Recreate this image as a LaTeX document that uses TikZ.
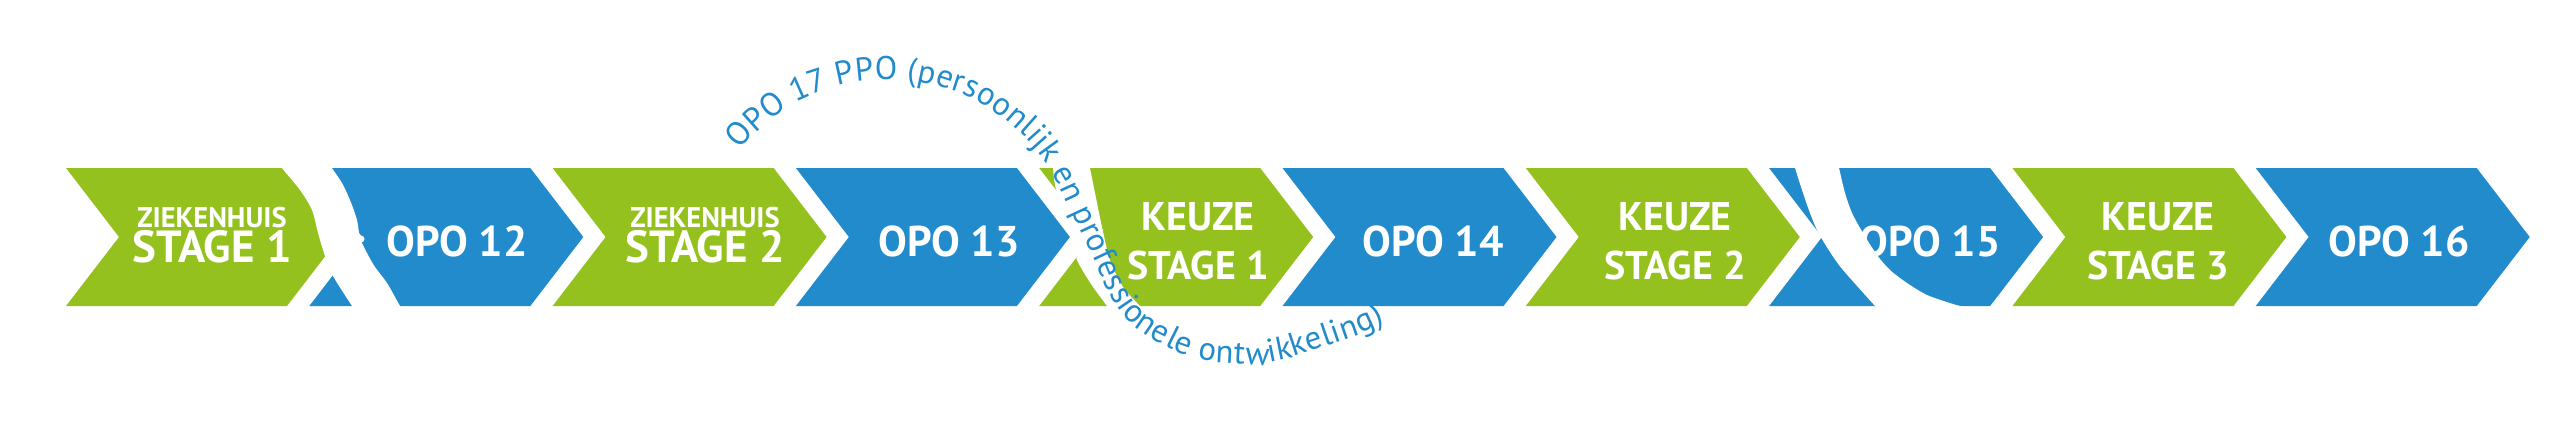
\documentclass[tikz,border=0pt]{standalone}
\usepackage{fontspec}
\setmainfont{PT Sans}
\usetikzlibrary{decorations.text}
\definecolor{kgreen}{HTML}{95C11F}
\definecolor{kblue}{HTML}{228BCB}
\tikzset{
  chevlabel/.style={anchor=base, inner sep=0pt, text=white},
  opolabel/.style={chevlabel, font=\bfseries\fontsize{10.75}{10.75}\selectfont},
  smalllabel/.style={chevlabel, font=\bfseries\fontsize{7.125}{7.125}\selectfont},
  biglabel/.style={chevlabel, font=\bfseries\fontsize{11.25}{11.25}\selectfont},
  keuzelabel/.style={chevlabel, font=\bfseries\fontsize{10}{10}\selectfont},
  band/.style={fill=white},
}
\newcommand\kchev[2]{\fill[#2] (#1,168) -- ++(221,0) -- ++(53,69) -- ++(-53,69) -- ++(-221,0) -- ++(53,-69) -- cycle;}
\begin{document}
\begin{tikzpicture}[x=0.25pt,y=-0.25pt]
\useasboundingbox (0,0) rectangle (2560,430);
% chevrons
\kchev{66}{kgreen}
\kchev{309.3}{kblue}
\kchev{552.6}{kgreen}
\kchev{795.9}{kblue}
\kchev{1039.2}{kgreen}
\kchev{1282.5}{kblue}
\kchev{1525.8}{kgreen}
\kchev{1769.1}{kblue}
\kchev{2012.4}{kgreen}
\kchev{2255.7}{kblue}
% labels
\node[smalllabel] (z1a) at (212,227.5) {ZIEKENHUIS};
\node[biglabel]   (z1b) at (212,262.5) {STAGE 1};
\node[opolabel]   (o12) at (457,256.5) {OPO 12};
\node[smalllabel] (z2a) at (705,227.5) {ZIEKENHUIS};
\node[biglabel]   (z2b) at (705,262.5) {STAGE 2};
\node[opolabel]   (o13) at (949,256.5) {OPO 13};
\node[keuzelabel] (k1a) at (1198,230) {KEUZE};
\node[keuzelabel] (k1b) at (1198,279.5) {STAGE 1};
\node[opolabel]   (o14) at (1433,256.5) {OPO 14};
\node[keuzelabel] (k2a) at (1675,230) {KEUZE};
\node[keuzelabel] (k2b) at (1675,279.5) {STAGE 2};
\node[opolabel]   (o15) at (1930,256.5) {OPO 15};
\node[keuzelabel] (k3a) at (2158,230) {KEUZE};
\node[keuzelabel] (k3b) at (2158,279.5) {STAGE 3};
\node[opolabel]   (o16) at (2399,256.5) {OPO 16};
% white bands
\fill[band] plot[smooth] coordinates {(278,160) (282,168) (300,190) (312,210) (318,233) (325,256) (333,276) (352,306) (357,314)}
  -- plot[smooth] coordinates {(405,314) (400,306) (387,283) (375,267) (367,253) (360,238) (357,220) (350,200) (342,183) (332,168) (328,160)} -- cycle;
\fill[band] (361,239) circle[radius=3.5];
\fill[band] plot[smooth] coordinates {(1052,160) (1053,168) (1055,185) (1062,213) (1072,240) (1077,260) (1091,284) (1107,306) (1112,314)}
  -- plot[smooth] coordinates {(1150,314) (1140,306) (1123,287) (1110,260) (1102,227) (1095,193) (1090,168) (1089,160)} -- cycle;
\fill[band] plot[smooth] coordinates {(1792,160) (1795,168) (1802,190) (1810,213) (1818,232) (1830,252) (1843,270) (1875,306) (1882,314)}
  -- plot[smooth] coordinates {(1985,314) (1968,308) (1953,304) (1927,295) (1907,283) (1890,270) (1877,255) (1863,233) (1852,213) (1845,193) (1839,168) (1837,160)} -- cycle;
% curved text
\path[decorate, decoration={text along path, text color=kblue,
    text={|\fontsize{8.2}{8.2}\selectfont|OPO 17 PPO (persoonlijk en professionele ontwikkeling)},
    text align={fit to path}}]
  (739.6,149.8) -- (752.9,134.9) -- (767.8,121.6) -- (784.0,109.8) -- (801.3,99.8) -- (819.5,91.7)
  -- (838.6,85.5) -- (858.1,81.3) -- (878.0,79.3) -- (898.0,79.3) -- (917.9,81.4) -- (937.4,85.5)
  -- (956.5,91.7) -- (974.7,99.8) -- (992.0,109.8) -- (1008.2,121.6) -- (1023.1,134.9) -- (1036.4,149.8)
  -- (1048.2,166.0) -- (1058.2,183.3) -- (1065.1,198.4) -- (1071,210) -- (1077,223) -- (1085,240)
  -- (1095,261) -- (1104,283) -- (1113,300) -- (1124,316) -- (1137,329) -- (1150,338) -- (1164,345)
  -- (1178,352) -- (1192,357) -- (1223,363) -- (1257,365) -- (1287,359) -- (1320,348) -- (1352,337) -- (1385,322);
\end{tikzpicture}
\end{document}
